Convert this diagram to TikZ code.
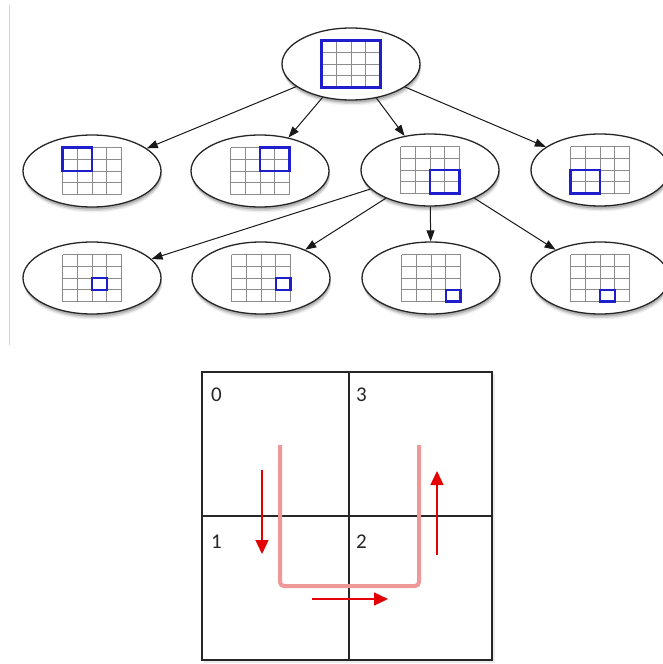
\documentclass[tikz,border=0pt]{standalone}
\usepackage{fontspec}
\setmainfont{Carlito}
\usetikzlibrary{shapes.geometric,arrows.meta,shadows}
\definecolor{gridgray}{RGB}{140,140,140}
\definecolor{hiblue}{RGB}{30,30,205}
\definecolor{upink}{RGB}{238,152,152}
\definecolor{arred}{RGB}{228,0,0}
\tikzset{
  qnode/.style={ellipse, draw=black!85, line width=1.3, fill=white,
    minimum width=138, minimum height=72, inner sep=0,
    drop shadow={shadow xshift=0.5, shadow yshift=2.5, opacity=0.16, fill=black},
    drop shadow={shadow xshift=1, shadow yshift=4, opacity=0.11, fill=black},
    drop shadow={shadow xshift=1, shadow yshift=5.5, opacity=0.06, fill=black}},
  edge/.style={draw=black!90, line width=1, -{Triangle[length=11,width=8]}},
  gridline/.style={draw=gridgray, line width=0.8},
  hilite/.style={draw=hiblue, line width=2.3},
  pics/qgrid/.style n args={4}{code={
    \foreach \k in {0,...,4} {
      \draw[gridline] (-29.5+14.75*\k,-23.5) -- (-29.5+14.75*\k,23.5);
      \draw[gridline] (-29.5,-23.5+11.75*\k) -- (29.5,-23.5+11.75*\k);
    }
    \draw[hilite] (-29.5+14.75*#1,-23.5+11.75*#2) rectangle (-29.5+14.75*#1+14.75*#3,-23.5+11.75*#2+11.75*#4);
  }},
  quad/.style={draw=black!85, line width=1.3},
  digit/.style={anchor=base west, inner sep=0, font=\fontsize{21}{21}\selectfont, text=black!85},
  upath/.style={draw=upink, line width=4, rounded corners=4},
  redarrow/.style={draw=arred, line width=1.4, -{Triangle[length=14,width=13]}}
}
\begin{document}
\begin{tikzpicture}[x=1pt,y=-1pt]
\useasboundingbox (0,0) rectangle (662,664);
\fill[white] (0,0) rectangle (662,664);
% left rule of the upper panel
\draw[black!18, line width=1] (9,5) -- (9,345);

% nodes
\node[qnode] (top) at (351,64) {};
\node[qnode] (a1) at (92,171) {};
\node[qnode] (a2) at (260,171) {};
\node[qnode] (a3) at (430,170) {};
\node[qnode] (a4) at (600,170) {};
\node[qnode] (b1) at (92,278) {};
\node[qnode] (b2) at (261,278) {};
\node[qnode] (b3) at (431,278) {};
\node[qnode] (b4) at (600,278) {};

% grids
\pic at (top.center) {qgrid={0}{0}{4}{4}};
\pic at (a1.center) {qgrid={0}{0}{2}{2}};
\pic at (a2.center) {qgrid={2}{0}{2}{2}};
\pic at (a3.center) {qgrid={2}{2}{2}{2}};
\pic at (a4.center) {qgrid={0}{2}{2}{2}};
\pic at (b1.center) {qgrid={2}{2}{1}{1}};
\pic at (b2.center) {qgrid={3}{2}{1}{1}};
\pic at (b3.center) {qgrid={3}{3}{1}{1}};
\pic at (b4.center) {qgrid={2}{3}{1}{1}};

% edges
\draw[edge] (top) -- (a1);
\draw[edge] (top) -- (a2);
\draw[edge] (top) -- (a3);
\draw[edge] (top) -- (a4);
\draw[edge] (a3) -- (b1);
\draw[edge] (a3) -- (b2);
\draw[edge] (a3) -- (b3);
\draw[edge] (a3) -- (b4);

% lower panel
\fill[black!8] (204,374) rectangle (495,663);
\fill[white] (202,372) rectangle (492,660);
\draw[quad, line width=2] (202,372) rectangle (492,660);
\draw[quad] (349,372) -- (349,660);
\draw[quad] (202,516) -- (492,516);
\node[digit] (q0) at (211,401) {0};
\node[digit] (q3) at (356,401) {3};
\node[digit] (q1) at (211,548) {1};
\node[digit] (q2) at (356,548) {2};

% U-shaped path
\coordinate (u0) at (280,445);
\coordinate (u1) at (280,586);
\coordinate (u2) at (419,586);
\coordinate (u3) at (419,445);
\draw[upath] (u0) -- (u1) -- (u2) -- (u3);

% direction arrows
\coordinate (d0) at (262,470);
\coordinate (d1) at (262,554);
\coordinate (r0) at (312,599);
\coordinate (r1) at (388,599);
\coordinate (v0) at (437,555);
\coordinate (v1) at (437,471);
\draw[redarrow] (d0) -- (d1);
\draw[redarrow] (r0) -- (r1);
\draw[redarrow] (v0) -- (v1);
\end{tikzpicture}
\end{document}
